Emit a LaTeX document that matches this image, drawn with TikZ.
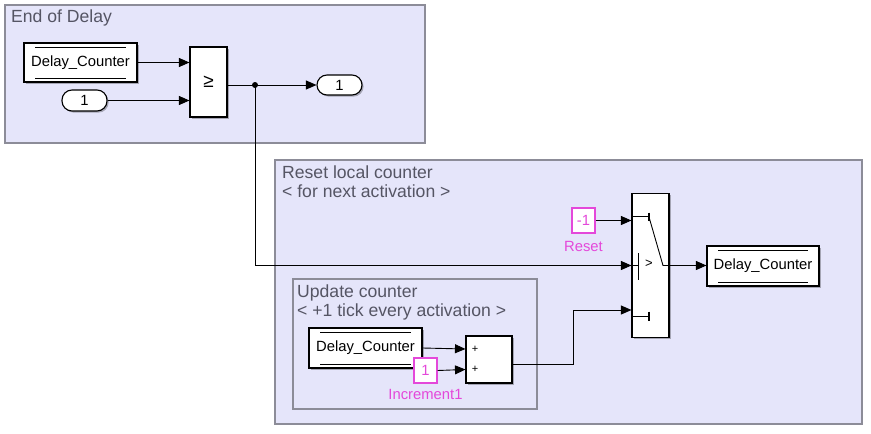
\documentclass[tikz,border=0pt]{standalone}
\usepackage{fontspec}
\setmainfont{Liberation Sans}
\usetikzlibrary{arrows.meta,shadows,calc}
\definecolor{areafill}{RGB}{229,229,250}
\definecolor{arealine}{RGB}{140,140,152}
\definecolor{titlegray}{RGB}{85,85,100}
\definecolor{mag}{RGB}{228,72,218}
\newcommand\blkfont{\fontsize{14.8}{16}\selectfont}
\newcommand\ttlfont{\fontsize{17.6}{19.5}\selectfont}
\newcommand\smlfont{\fontsize{11}{12}\selectfont}
\tikzset{
  area/.style={draw=arealine, fill=areafill, line width=1.1pt},
  shad/.style={drop shadow={shadow xshift=1.6pt, shadow yshift=-1.6pt, fill=black, opacity=0.28}},
  blk/.style={draw=black, fill=white, line width=1.1pt, shad, font=\blkfont, inner sep=0pt},
  port/.style={draw=black, fill=white, line width=1.1pt, shad, rounded corners=10pt, font=\blkfont, inner sep=0pt},
  cst/.style={draw=mag, fill=white, line width=1.1pt, text=mag, font=\blkfont, inner sep=0pt},
  lbl/.style={text=mag, font=\blkfont, inner sep=0pt},
  ttl/.style={text=titlegray, font=\ttlfont, inner sep=0pt, anchor=base west},
  wire/.style={draw=black, line width=0.9pt},
  conn/.style={wire, -{Triangle[length=10.5pt,width=9pt]}},
  icon/.style={draw=black, line width=0.9pt},
  tick/.style={draw=black, line width=1.6pt},
}
\begin{document}
\begin{tikzpicture}[x=1pt,y=-1pt]
\useasboundingbox (0,0) rectangle (871,434);
\fill[white] (0,0) rectangle (871,434);

% areas
\draw[area] (5,5) rectangle (425,143);
\draw[area] (275,160) rectangle (862,424);
\draw[area] (293,279) rectangle (537,409);

\node[ttl] (t1) at (11,22) {End of Delay};
\node[ttl] (t2) at (282,178) {Reset local counter};
\node[ttl] (t3) at (282,197.5) {< for next activation >};
\node[ttl] (t4) at (297,297) {Update counter};
\node[ttl] (t5) at (297,316.5) {< +1 tick every activation >};

% End of Delay blocks
\node[blk, minimum width=113pt, minimum height=39pt] (dc1) at (80.5,62.5) {Delay\_Counter};
\draw[icon] ($(dc1.north west)+(12,5)$) -- ($(dc1.north east)+(-12,5)$);
\draw[icon] ($(dc1.south west)+(12,-4)$) -- ($(dc1.south east)+(-12,-4)$);
\node[port, minimum width=45pt, minimum height=21pt] (in1) at (84.5,100.5) {1};
\node[blk, minimum width=37pt, minimum height=70pt, font=\fontsize{19}{20}\selectfont] (cmp) at (208.5,82) {≥};
\node[port, minimum width=45pt, minimum height=20pt] (out1) at (339.5,85) {1};
\coordinate (j) at (255,85);

% switch
\node[blk, minimum width=37pt, minimum height=144pt] (sw) at (650.5,265.5) {};
\draw[icon] (632,216) -- (649,216);
\draw[tick] (649,212.5) -- (649,221);
\draw[icon] (649,217) -- (663,265.5) -- (sw.east);
\draw[icon] (632,265.5) -- (638,265.5);
\draw[icon] (638,253) -- (638,280);
\node[font=\fontsize{13}{14}\selectfont, inner sep=0pt] (gt) at (649,263.5) {>};
\draw[icon] (632,316) -- (649,316);
\draw[tick] (649,311.5) -- (649,320.5);

\node[cst, minimum width=23pt, minimum height=25pt] (cm1) at (583.5,220.5) {-1};
\node[lbl] (rst) at (583.5,246) {Reset};
\node[blk, minimum width=112pt, minimum height=40pt] (dcw) at (763,266) {Delay\_Counter};
\draw[icon] ($(dcw.north west)+(12,5)$) -- ($(dcw.north east)+(-12,5)$);
\draw[icon] ($(dcw.south west)+(12,-4)$) -- ($(dcw.south east)+(-12,-4)$);

% update counter
\node[blk, minimum width=113pt, minimum height=40pt] (dc2) at (365.5,348) {Delay\_Counter};
\draw[icon] ($(dc2.north west)+(12,5)$) -- ($(dc2.north east)+(-12,5)$);
\draw[icon] ($(dc2.south west)+(12,-4)$) -- ($(dc2.south east)+(-12,-4)$);
\node[cst, minimum width=23pt, minimum height=25pt] (c1) at (425.5,370.5) {1};
\node[lbl] (inc) at (425.5,394) {Increment1};
\node[blk, minimum width=46pt, minimum height=47pt] (sum) at (489,359.5) {};
\node[font=\smlfont, inner sep=0pt] (p1) at (475,349) {+};
\node[font=\smlfont, inner sep=0pt] (p2) at (475,369.5) {+};

% connectors
\draw[conn] (dc1.east) -- (cmp.west |- dc1.east);
\draw[conn] (in1.east) -- (cmp.west |- in1.east);
\draw[wire] (cmp.east |- j) -- (j);
\draw[conn] (j) -- (out1.west);
\draw[conn] (j) |- (sw.west);
\fill (j) circle (3pt);
\draw[conn] (cm1.east) -- (sw.west |- cm1.east);
\draw[conn] (sw.east) -- (dcw.west |- sw.east);
\draw[conn] (dc2.east) -- (sum.west |- p1);
\draw[conn] (c1.east) -- (sum.west |- p2);
\coordinate (so) at ($(sum.east)+(0,4.5)$);
\coordinate (bend) at (573,310);
\draw[conn] (so) -| (bend) -- (sw.west |- bend);
\end{tikzpicture}
\end{document}
